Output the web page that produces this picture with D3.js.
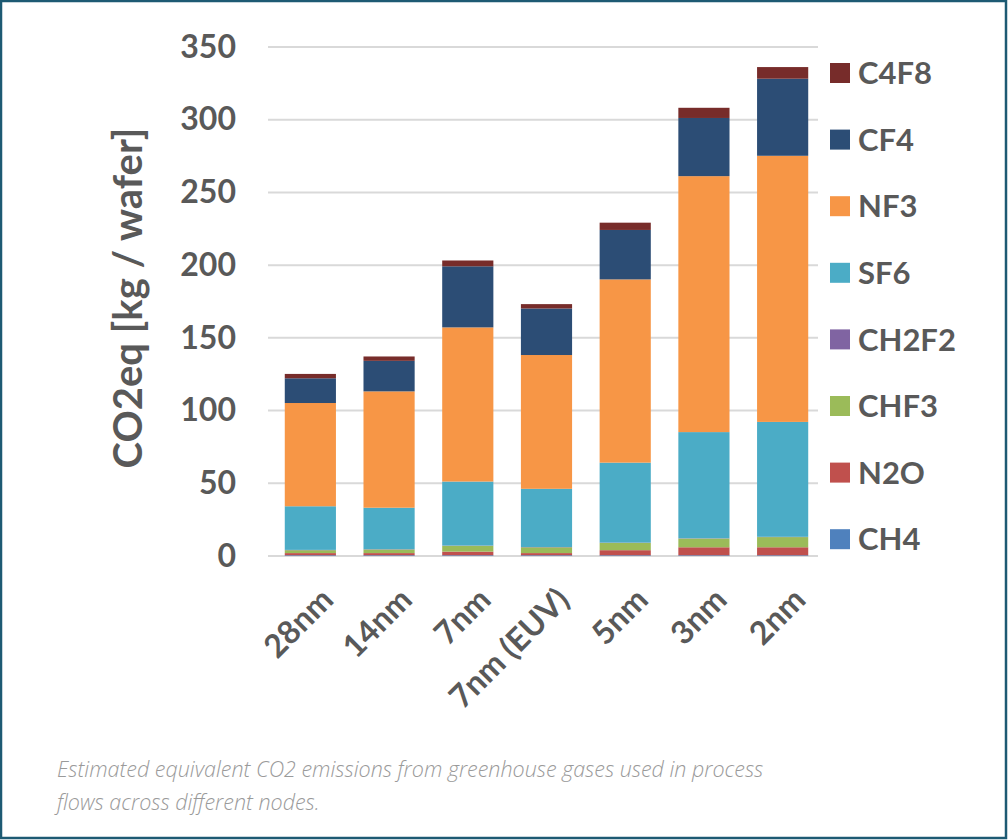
<!DOCTYPE html>
<html>
<head>
<meta charset="utf-8">
<script src="https://cdn.jsdelivr.net/npm/d3@7"></script>
<style>
  body { margin: 0; background: #fff; }
  svg { display: block; }
</style>
</head>
<body>
<svg id="chart" width="1008" height="840"></svg>
<script>
// nodes along the x axis
const nodes = ["28nm", "14nm", "7nm", "7nm (EUV)", "5nm", "3nm", "2nm"]
// gases, bottom of the stack first
const gases = ["CH4", "N2O", "CHF3", "CH2F2", "SF6", "NF3", "CF4", "C4F8"]
const gasColors = ["#4f81bd", "#c0504d", "#9bbb59", "#8064a2", "#4bacc6", "#f79646", "#2c4d75", "#772c2a"]

// kg CO2eq per wafer, one array per gas, in node order
const CH4   = [0.5, 0.5, 0.5, 0.5, 0.5, 0.5, 0.5]
const N2O   = [1.5, 1.5, 2.5, 1.5, 3.5, 5.5, 5.5]
const CHF3  = [2, 2.5, 4, 4, 5, 6, 7]
const CH2F2 = [0.2, 0.2, 0.2, 0.2, 0.2, 0.2, 0.2]
const SF6   = [30, 28.5, 44, 40, 55, 73, 79]
const NF3   = [71, 80, 106, 92, 126, 176, 183]
const CF4   = [17, 21, 42, 32, 34, 40, 53]
const C4F8  = [3, 3, 4, 3, 5, 7, 8]

const yTicks = [0, 50, 100, 150, 200, 250, 300, 350]
const seriesValues = [CH4, N2O, CHF3, CH2F2, SF6, NF3, CF4, C4F8]

const rows = nodes.map((n, i) => {
    const r = { node: n }
    gases.forEach((g, j) => { r[g] = seriesValues[j][i] })
    return r
})

const svg = d3.select("#chart")
const font = "Lato, 'Open Sans', sans-serif"
const textColor = "#595959"

// outer frame
svg.append("rect")
    .attr("x", 1).attr("y", 1)
    .attr("width", 1005).attr("height", 837)
    .attr("fill", "none")
    .attr("stroke", "#1d5a73")
    .attr("stroke-width", 2.5)

const x = d3.scaleBand()
    .domain(nodes)
    .range([271, 822])
    .paddingInner(0.35)
    .paddingOuter(0.175)

const y = d3.scaleLinear()
    .domain([0, 350])
    .range([556, 47])

const color = d3.scaleOrdinal().domain(gases).range(gasColors)

// gridlines
svg.append("g")
    .selectAll("line")
    .data(yTicks)
    .join("line")
    .attr("x1", 268).attr("x2", 818)
    .attr("y1", d => y(d)).attr("y2", d => y(d))
    .attr("stroke", "#d9d9d9")
    .attr("stroke-width", 2)

// y axis labels
const yAxis = svg.append("g")
    .attr("transform", "translate(250,0)")
    .call(d3.axisLeft(y).tickValues(yTicks).tickSize(0).tickPadding(14))
yAxis.select(".domain").remove()
yAxis.selectAll("text")
    .attr("font-family", font)
    .attr("font-size", 32)
    .attr("font-weight", "bold")
    .attr("fill", textColor)

svg.append("text")
    .text("CO2eq [kg / wafer]")
    .attr("transform", "translate(142,298) rotate(-90)")
    .attr("text-anchor", "middle")
    .attr("font-family", font)
    .attr("font-size", 40)
    .attr("font-weight", "bold")
    .attr("fill", textColor)

// stacked bars
const stacked = d3.stack().keys(gases)(rows)
svg.append("g")
    .selectAll("g")
    .data(stacked)
    .join("g")
    .attr("fill", d => color(d.key))
    .selectAll("rect")
    .data(d => d)
    .join("rect")
    .attr("x", d => x(d.data.node))
    .attr("y", d => y(d[1]))
    .attr("width", x.bandwidth())
    .attr("height", d => y(d[0]) - y(d[1]))

// x labels, rotated
svg.append("g")
    .selectAll("text")
    .data(nodes)
    .join("text")
    .text(d => d)
    .attr("transform", d => `translate(${x(d) + x.bandwidth() / 2 + 9},${586}) rotate(-45)`)
    .attr("text-anchor", "end")
    .attr("dy", "0.7em")
    .attr("font-family", font)
    .attr("font-size", 32)
    .attr("font-weight", "bold")
    .attr("fill", textColor)

// legend, top entry is the top of the stack
const legend = svg.append("g")
    .selectAll("g")
    .data(gases.slice().reverse())
    .join("g")
    .attr("transform", (d, i) => `translate(830,${73 + i * 66.6})`)
legend.append("rect")
    .attr("x", 0).attr("y", -10)
    .attr("width", 20).attr("height", 20)
    .attr("fill", d => color(d))
legend.append("text")
    .text(d => d)
    .attr("x", 28)
    .attr("dy", "0.36em")
    .attr("font-family", font)
    .attr("font-size", 31)
    .attr("font-weight", "bold")
    .attr("fill", textColor)

// caption
const caption = svg.append("text")
    .attr("font-family", "'Open Sans', sans-serif")
    .attr("font-style", "italic")
    .attr("font-weight", 300)
    .attr("font-size", 21.5)
    .attr("fill", "#9a9a9a")
caption.append("tspan").attr("x", 57).attr("y", 777)
    .text("Estimated equivalent CO2 emissions from greenhouse gases used in process")
caption.append("tspan").attr("x", 57).attr("y", 810)
    .text("flows across different nodes.")
</script>
</body>
</html>
